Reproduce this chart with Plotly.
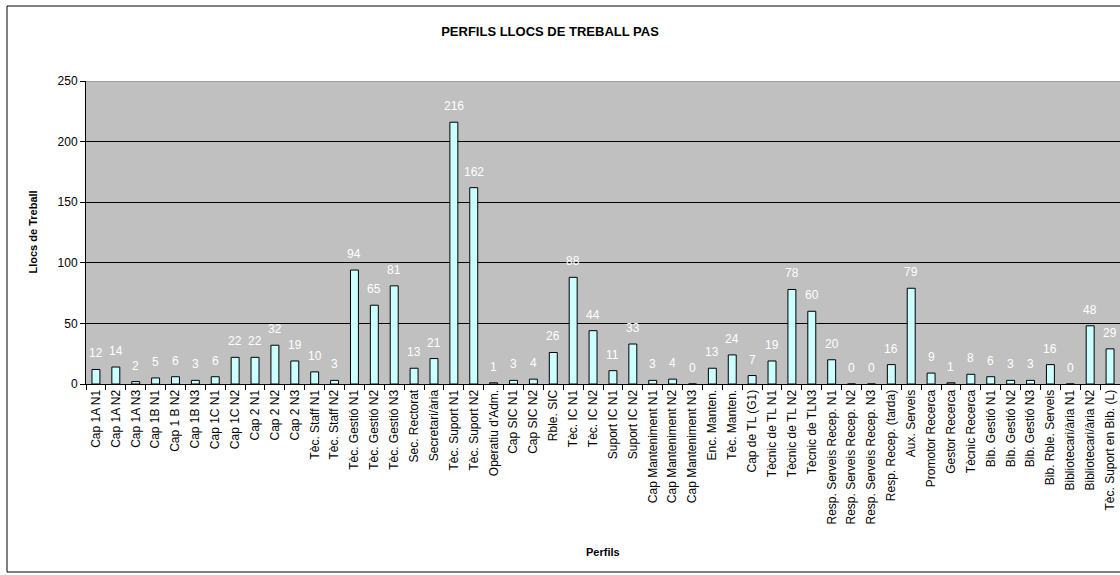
"""PERFILS LLOCS DE TREBALL PAS - bar chart recreated with Plotly."""
import plotly.graph_objects as go

FONT = "Liberation Sans, Arial, sans-serif"

PERFILS = [
    "Cap 1A N1", "Cap 1A N2", "Cap 1A N3", "Cap 1B N1", "Cap 1 B N2",
    "Cap 1B N3", "Cap 1C N1", "Cap 1C N2", "Cap 2 N1", "Cap 2 N2",
    "Cap 2 N3", "Tèc. Staff N1", "Tèc. Staff N2", "Tèc. Gestió N1",
    "Tèc. Gestió N2", "Tèc. Gestió N3", "Sec. Rectorat", "Secretari/ària",
    "Tèc. Suport N1", "Tèc. Suport N2", "Operatiu d'Adm.", "Cap SIC N1",
    "Cap SIC N2", "Rble. SIC", "Tèc. IC N1", "Tèc. IC N2", "Suport IC N1",
    "Suport IC N2", "Cap Manteniment N1", "Cap Manteniment N2",
    "Cap Manteniment N3", "Enc. Manten.", "Tèc. Manten.", "Cap de TL (G1)",
    "Tècnic de TL N1", "Tècnic de TL N2", "Tècnic de TLN3",
    "Resp. Serveis Recep. N1", "Resp. Serveis Recep. N2",
    "Resp. Serveis Recep. N3", "Resp. Recep. (tarda)", "Aux. Serveis",
    "Promotor Recerca", "Gestor Recerca", "Tècnic Recerca", "Bib. Gestió N1",
    "Bib. Gestió N2", "Bib. Gestió N3", "Bib. Rble. Serveis",
    "Bibliotecari/ària N1", "Bibliotecari/ària N2", "Tèc. Suport en Bib. (L)",
]
LLOCS = [
    12, 14, 2, 5, 6, 3, 6, 22, 22, 32, 19, 10, 3, 94, 65, 81, 13, 21, 216,
    162, 1, 3, 4, 26, 88, 44, 11, 33, 3, 4, 0, 13, 24, 7, 19, 78, 60, 20, 0,
    0, 16, 79, 9, 1, 8, 6, 3, 3, 16, 0, 48, 29,
]
Y_TICKS = [0, 50, 100, 150, 200, 250]

# pixel layout of the original (plot area runs off the right edge)
W, H = 1120, 575
L, T, B = 86, 81, 191
PW, PH = W - L, H - T - B


def px_x(x):
    return (x - L) / PW


def px_y(y):
    return (H - B - y) / PH


fig = go.Figure(go.Bar(
    x=PERFILS,
    y=LLOCS,
    marker=dict(color="#CCFFFF", line=dict(color="black", width=1)),
    showlegend=False,
))

# value labels above each bar
for p, v in zip(PERFILS, LLOCS):
    fig.add_annotation(
        x=p, y=v, text=str(v), showarrow=False, yshift=16,
        font=dict(family=FONT, size=12, color="white"),
    )

fig.add_annotation(
    xref="paper", yref="paper", x=px_x(32), y=0.5, xanchor="center",
    yanchor="middle", text="<b>Llocs de Treball</b>", textangle=-90,
    showarrow=False, font=dict(family=FONT, size=11, color="black"),
)
fig.add_annotation(
    xref="paper", yref="paper", x=px_x(603), y=px_y(552), xanchor="center",
    yanchor="middle", text="<b>Perfils</b>",
    showarrow=False, font=dict(family=FONT, size=11, color="black"),
)

# chart area border
fig.add_shape(
    type="rect", xref="paper", yref="paper",
    x0=px_x(7), x1=px_x(1130), y0=px_y(572), y1=px_y(6),
    line=dict(color="black", width=1), fillcolor="rgba(0,0,0,0)", layer="below",
)
# grey plot-area border on top
fig.add_shape(
    type="line", xref="paper", yref="y", x0=0, x1=1, y0=250, y1=250,
    line=dict(color="#808080", width=1),
)

fig.update_layout(
    width=W, height=H,
    margin=dict(l=L, r=0, t=T, b=B),
    paper_bgcolor="white",
    plot_bgcolor="#C0C0C0",
    bargap=0.6,
    font=dict(family=FONT, size=12, color="black"),
    title=dict(
        text="<b>PERFILS LLOCS DE TREBALL PAS</b>",
        x=550 / W, xref="container", xanchor="center",
        y=1 - 31 / H, yref="container", yanchor="middle",
        font=dict(family=FONT, size=13, color="black"),
    ),
    xaxis=dict(
        type="category", tickangle=-90, tickson="boundaries",
        ticks="outside", ticklen=5, tickcolor="black",
        showline=True, linecolor="black", linewidth=1,
        showgrid=False, tickfont=dict(size=12), automargin=False,
    ),
    yaxis=dict(
        range=[0, 250], tickvals=Y_TICKS, ticks="outside", ticklen=5,
        tickcolor="black", showline=True, linecolor="black", linewidth=1,
        gridcolor="black", gridwidth=1, zeroline=False,
        tickfont=dict(size=12), automargin=False,
    ),
)

fig.write_html(
    "out.html",
    config={"displayModeBar": False},
    post_script="document.body.style.margin='0';document.body.style.overflow='hidden';",
)
